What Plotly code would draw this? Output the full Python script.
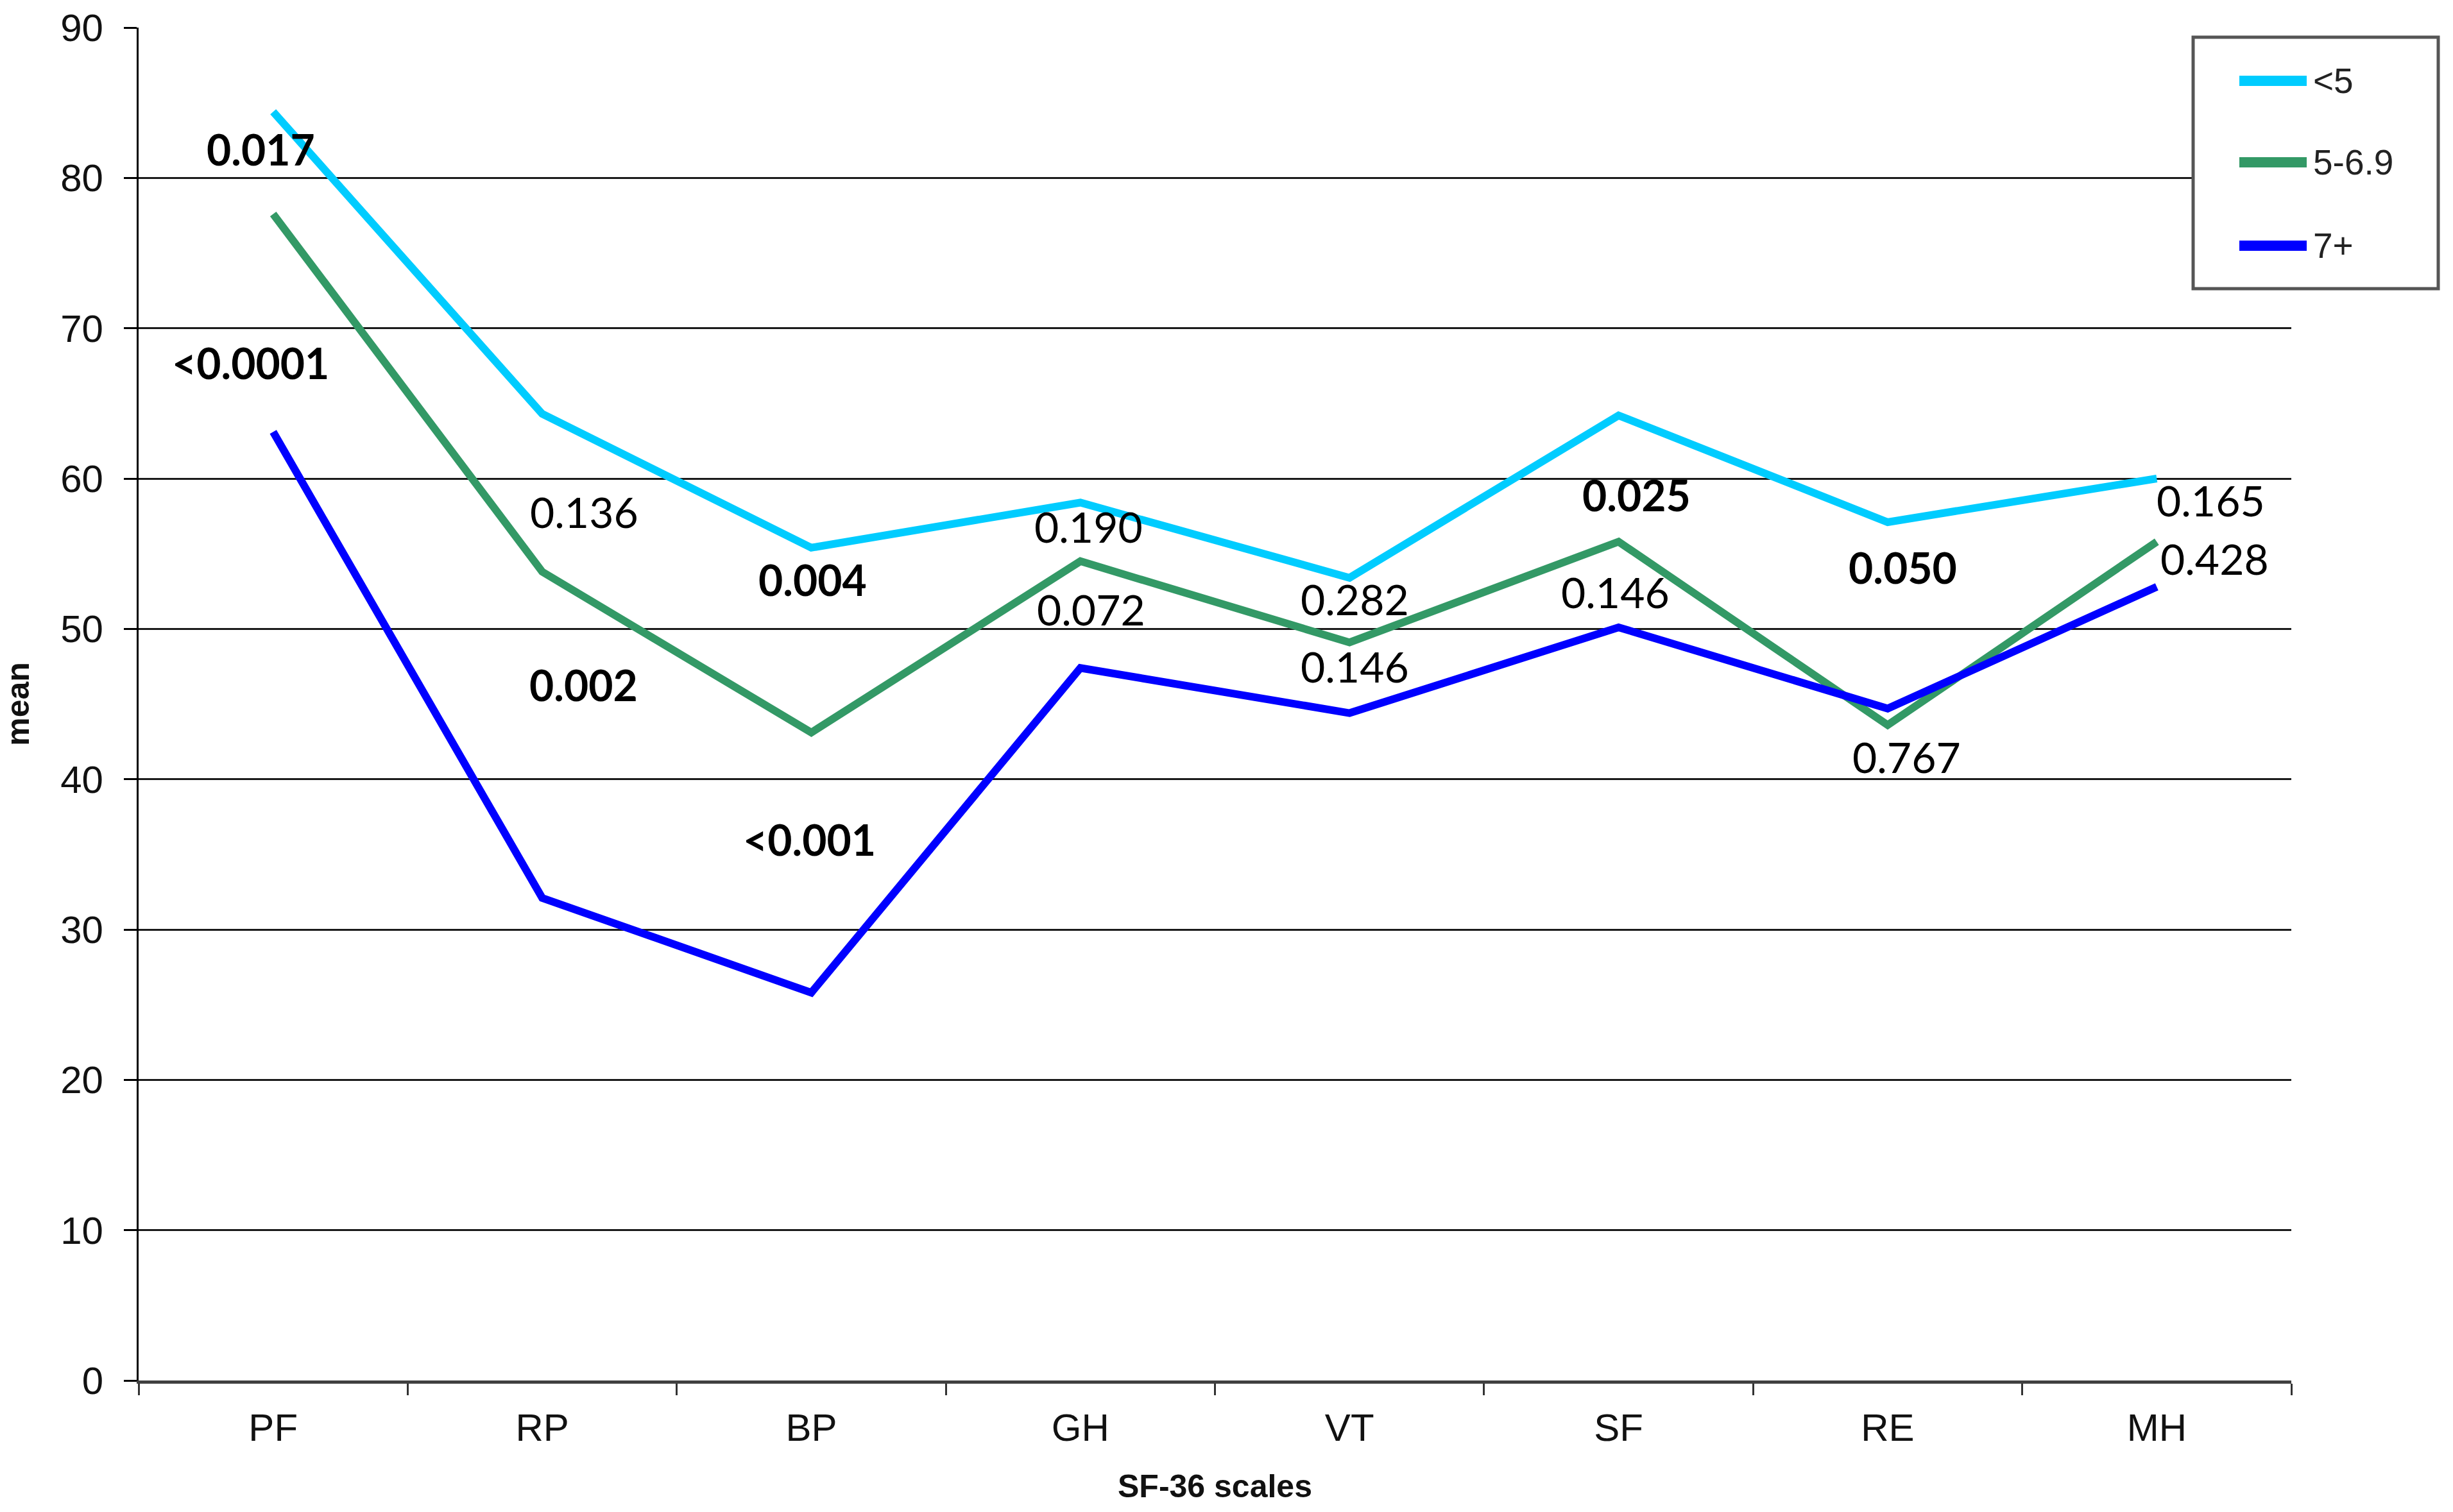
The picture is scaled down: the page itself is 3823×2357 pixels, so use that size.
import plotly.graph_objects as go

# ---- data ----
scales = ["PF", "RP", "BP", "GH", "VT", "SF", "RE", "MH"]
group_names = ["<5", "5-6.9", "7+"]
mean_lt5 = [84.4, 64.3, 55.4, 58.4, 53.4, 64.2, 57.1, 60.0]
mean_5_69 = [77.6, 53.8, 43.1, 54.5, 49.1, 55.8, 43.6, 55.8]
mean_7plus = [63.1, 32.1, 25.8, 47.4, 44.4, 50.1, 44.7, 52.8]

# p-value labels (text, bold flag, x position as category index, y position in mean units)
p_text = ["0.017", "<0.0001", "0.136", "0.002", "0.004", "<0.001", "0.190", "0.072",
          "0.282", "0.146", "0.025", "0.146", "0.050", "0.767", "0.165", "0.428"]
p_bold = [True, True, False, True, True, True, False, False,
          False, False, True, False, True, False, False, False]
p_x = [-0.045, -0.083, 1.156, 1.153, 2.006, 1.994, 3.03, 3.04,
       4.02, 4.02, 5.066, 4.987, 6.057, 6.07, 7.20, 7.215]
p_y = [81.9, 67.7, 57.8, 46.3, 53.3, 36.0, 56.8, 51.3,
       52.0, 47.5, 58.9, 52.45, 54.1, 41.5, 58.55, 54.7]

y_ticks = [0, 10, 20, 30, 40, 50, 60, 70, 80, 90]

colors = ["#00CCFF", "#339966", "#0000FF"]
series = [mean_lt5, mean_5_69, mean_7plus]

W, H = 3823, 2357
ML, MR, MT, MB = 216, 252, 43, 205
PW, PH = W - ML - MR, H - MT - MB


def px_x(p):
    return (p - ML) / PW


def px_y(p):
    return (H - MB - p) / PH


fig = go.Figure()
for name, vals, col in zip(group_names, series, colors):
    fig.add_trace(go.Scatter(
        x=scales, y=vals, name=name, mode="lines",
        line=dict(color=col, width=12), showlegend=False,
    ))

for t, b, x, y in zip(p_text, p_bold, p_x, p_y):
    fig.add_annotation(
        x=x, y=y, xref="x", yref="y", text=(f"<b>{t}</b>" if b else t),
        showarrow=False, xanchor="center", yanchor="middle",
        font=dict(family="Lato", size=66, color="#000000"),
    )

# ---- legend box (drawn in paper space, like the original chart's legend) ----
fig.add_shape(type="rect", xref="paper", yref="paper",
              x0=px_x(3418), x1=px_x(3800), y0=px_y(450), y1=px_y(58),
              line=dict(color="#555555", width=5), fillcolor="white", layer="above")
legend_rows = [126, 253, 383]
for name, col, row in zip(group_names, colors, legend_rows):
    fig.add_shape(type="line", xref="paper", yref="paper",
                  x0=px_x(3490), x1=px_x(3595), y0=px_y(row), y1=px_y(row),
                  line=dict(color=col, width=16), layer="above")
    fig.add_annotation(x=px_x(3603), y=px_y(row), xref="paper", yref="paper",
                       text=name, showarrow=False, xanchor="left", yanchor="middle",
                       font=dict(family="Liberation Sans, Arial", size=55, color="#222222"))

fig.update_layout(
    width=W, height=H,
    margin=dict(l=ML, r=MR, t=MT, b=MB, autoexpand=False),
    paper_bgcolor="white", plot_bgcolor="white",
    font=dict(family="Liberation Sans, Arial", color="#000000"),
    showlegend=False,
)

fig.update_xaxes(
    type="category", range=[-0.5, 7.5],
    showgrid=False, zeroline=False,
    showline=True, linecolor="#404040", linewidth=5,
    ticks="outside", tickson="boundaries", ticklen=18, tickwidth=3, tickcolor="#333333",
    tickfont=dict(family="Liberation Sans, Arial", size=60, color="#111111"),
    ticklabelstandoff=17,
    title=dict(text="<b>SF-36 scales</b>", standoff=42,
               font=dict(family="Liberation Sans, Arial", size=50, color="#111111")),
    automargin=False,
)
fig.update_yaxes(
    range=[0, 90], tickvals=y_ticks,
    showgrid=True, gridcolor="#1a1a1a", gridwidth=3,
    zeroline=False,
    showline=True, linecolor="#000000", linewidth=3,
    ticks="outside", ticklen=20, tickwidth=3, tickcolor="#000000",
    tickfont=dict(family="Liberation Sans, Arial", size=60, color="#111111"),
    ticklabelstandoff=20,
    title=dict(text="<b>mean</b>", standoff=50,
               font=dict(family="Liberation Sans, Arial", size=50, color="#111111")),
    automargin=False,
)

fig.write_html(
    "out.html",
    config={"displayModeBar": False},
    post_script="document.body.style.margin='0';document.body.style.overflow='hidden';",
)
